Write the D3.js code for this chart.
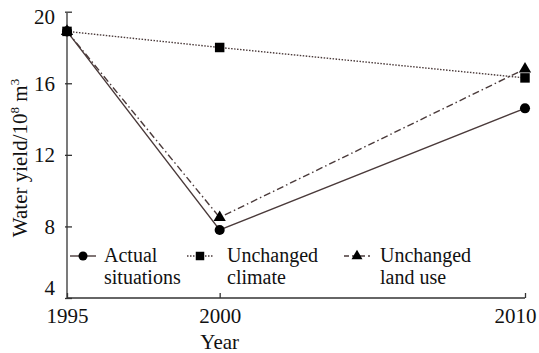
<!DOCTYPE html>
<html><head><meta charset="utf-8">
<script src="https://cdn.jsdelivr.net/npm/d3@7"></script>
<style>body{margin:0;background:#fff}svg{display:block}text{font-family:"Liberation Serif","DejaVu Serif",serif;fill:#111}</style>
</head><body><svg id="c" width="539" height="353"></svg>
<script>
const years = [1995, 2000, 2010];
const actual = [18.9, 7.8, 14.6];
const climate = [18.9, 18.0, 16.3];
const landUse = [18.9, 8.5, 16.8];
const yTicks = [4, 8, 12, 16, 20];
const xTicks = [1995, 2000, 2010];
const seriesNames = [["Actual", "situations"], ["Unchanged", "climate"], ["Unchanged", "land use"]];

const svg = d3.select("#c");
const x = d3.scaleLinear().domain([1995, 2010]).range([67, 525]);
const y = d3.scaleLinear().domain([4, 20]).range([298, 11.7]);
const lineColor = "#4a3a3a";
const fs = "21px";

// axes
const gx = svg.append("g").attr("transform", "translate(0,298)")
  .call(d3.axisBottom(x).tickValues(xTicks).tickFormat(d3.format("d")).tickSizeInner(-5).tickSizeOuter(0).tickPadding(10));
const gy = svg.append("g").attr("transform", "translate(67,0)")
  .call(d3.axisLeft(y).tickValues(yTicks).tickSizeInner(-5).tickSizeOuter(0).tickPadding(12));
gy.select(".domain").attr("d", "M0,298V13");
gx.select(".domain").attr("d", "M67,0H525");
[gx, gy].forEach(g => {
  g.selectAll(".domain,.tick line").attr("stroke", "#333").attr("stroke-width", 1.3);
  g.selectAll(".tick text").style("font-size", fs).attr("fill", "#111");
});
gy.selectAll(".tick line").attr("x1", -2);
gx.selectAll(".tick line").attr("y1", 0);
gy.selectAll(".tick text").attr("dy", d => d === 20 ? "0.55em" : d === 4 ? "-0.15em" : "0.32em");
gx.selectAll(".tick text").attr("dy", "0.71em").attr("dx", d => d === 2010 ? -10 : 0);

// axis titles
const yt = svg.append("text").attr("transform", "translate(27,158) rotate(-90)").attr("text-anchor", "middle").style("font-size", fs);
yt.append("tspan").text("Water yield/10");
yt.append("tspan").attr("dy", -8).style("font-size", "13px").text("8");
yt.append("tspan").attr("dy", 8).text(" m");
yt.append("tspan").attr("dy", -8).style("font-size", "13px").text("3");
svg.append("text").attr("x", x(2000)).attr("y", 349).attr("text-anchor", "middle").style("font-size", fs).text("Year");

const line = d3.line().x((d, i) => x(years[i])).y(d => y(d));
const styles = [
  {data: actual, dash: null, sym: d3.symbolCircle, size: 80},
  {data: climate, dash: "1.5,1.5", sym: d3.symbolSquare, size: 90},
  {data: landUse, dash: "7,3,1.5,3", sym: d3.symbolTriangle, size: 65}
];
styles.forEach(s => {
  svg.append("path").attr("d", line(s.data)).attr("fill", "none").attr("stroke", lineColor)
    .attr("stroke-width", 1.4).attr("stroke-dasharray", s.dash);
});
styles.forEach(s => {
  svg.selectAll(null).data(s.data).enter().append("path")
    .attr("d", d3.symbol().type(s.sym).size(s.size))
    .attr("transform", (d, i) => `translate(${x(years[i])},${y(d)})`).attr("fill", "#000");
});

// legend
const legX = [83, 200, 357];
const textX = [104, 227, 380];
styles.forEach((s, i) => {
  const g = svg.append("g");
  g.append("line").attr("x1", legX[i] - 13).attr("x2", legX[i] + 13).attr("y1", 256).attr("y2", 256)
    .attr("stroke", lineColor).attr("stroke-width", 1.4).attr("stroke-dasharray", i === 0 ? null : i === 1 ? "1.5,1.5" : "5,3");
  g.append("path").attr("d", d3.symbol().type(s.sym).size(s.size * 0.8)).attr("transform", `translate(${legX[i]},256)`).attr("fill", "#000");
  g.append("text").attr("x", textX[i]).attr("y", 262).style("font-size", "20px").text(seriesNames[i][0]);
  g.append("text").attr("x", textX[i]).attr("y", 284).style("font-size", "20px").text(seriesNames[i][1]);
});
</script></body></html>
